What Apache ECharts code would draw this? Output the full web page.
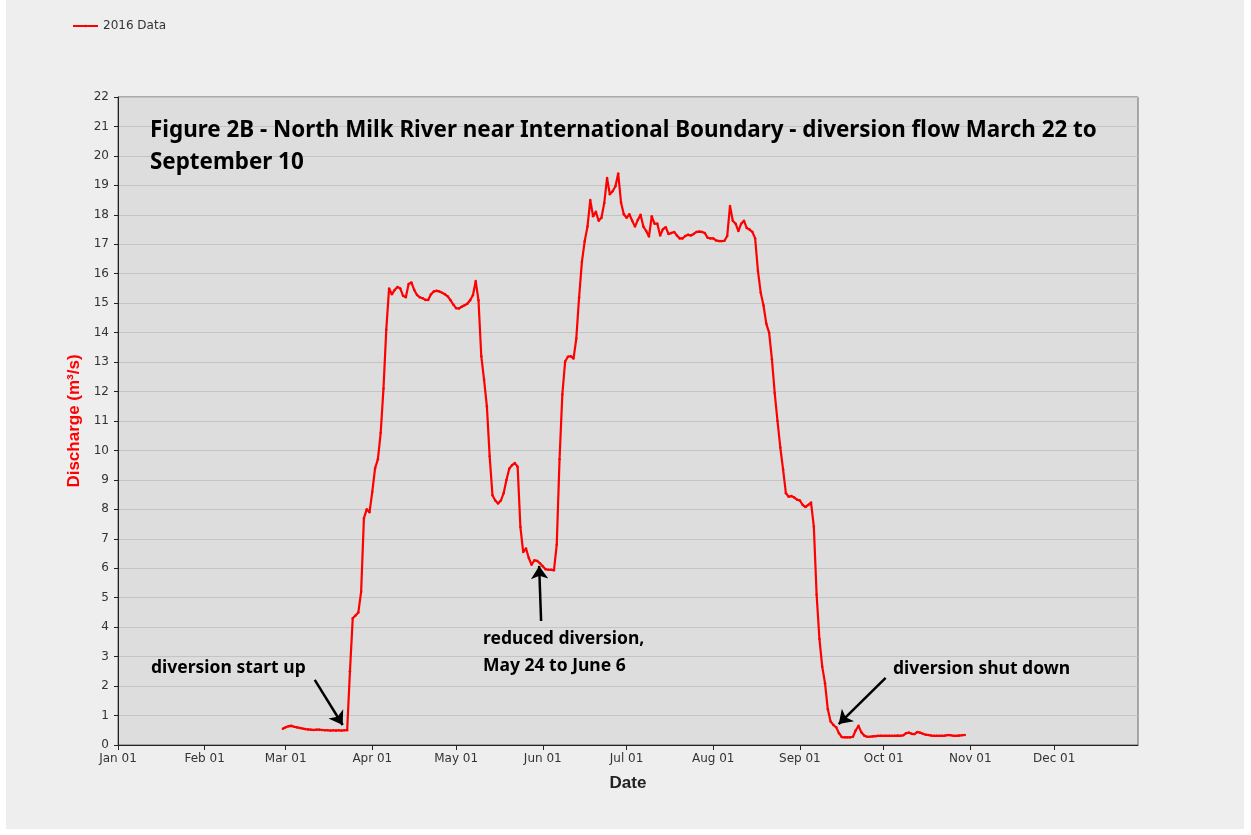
<!DOCTYPE html>
<html>
<head>
<meta charset="utf-8">
<script src="https://cdn.jsdelivr.net/npm/echarts@6/dist/echarts.min.js"></script>
<style>
html,body{margin:0;padding:0;background:#ffffff;}
#chart{position:absolute;left:6px;top:0;width:1238px;height:829px;background:#eeeeee;}
</style>
</head>
<body>
<div id="chart"></div>
<script>
// ---- data ----
const seriesName = '2016 Data';
const startDate = [2016, 1, 29]; // Feb 29, 2016 (year, monthIndex, day)
const flowValues = [
  0.55,0.6,0.64,0.65,0.62,0.6,0.58,0.56,0.54,0.53,0.52,0.51,0.52,0.52,0.51,0.5,0.5,0.49,0.5,0.49,0.5,0.49,0.5,0.5,
  2.5,4.3,4.4,4.5,5.2,7.7,8.0,7.9,8.6,9.4,9.7,10.6,12.1,14.1,15.5,15.3,15.45,15.55,
  15.5,15.25,15.2,15.65,15.7,15.45,15.28,15.2,15.17,15.11,15.11,15.3,15.4,15.42,15.4,15.35,15.3,15.23,15.1,14.95,
  14.83,14.82,14.88,14.93,14.98,15.1,15.27,15.75,15.1,13.2,12.4,11.5,9.8,8.48,8.3,8.2,8.3,8.55,9.0,9.38,
  9.5,9.57,9.45,7.4,6.55,6.67,6.35,6.12,6.27,6.25,6.17,6.07,5.97,5.95,5.95,5.93,6.8,9.7,11.9,13.02,
  13.18,13.2,13.12,13.8,15.2,16.4,17.1,17.6,18.5,17.95,18.1,17.8,17.9,18.4,19.25,18.7,18.8,18.97,19.4,18.42,
  18.02,17.9,18.02,17.8,17.6,17.82,18.0,17.6,17.45,17.26,17.95,17.7,17.7,17.3,17.51,17.58,17.35,17.38,17.42,17.3,
  17.2,17.2,17.28,17.32,17.3,17.35,17.42,17.43,17.42,17.38,17.22,17.2,17.2,17.13,17.11,17.11,17.12,17.28,18.3,17.8,
  17.7,17.45,17.7,17.8,17.55,17.5,17.42,17.2,16.1,15.35,14.92,14.3,14.0,13.1,11.95,11.0,10.1,9.35,8.55,8.43,
  8.45,8.4,8.33,8.3,8.15,8.08,8.15,8.23,7.41,5.1,3.6,2.66,2.1,1.21,0.8,0.68,0.6,0.4,0.27,0.26,
  0.26,0.26,0.28,0.5,0.65,0.43,0.32,0.28,0.28,0.29,0.3,0.31,0.31,0.31,0.31,0.31,0.31,0.31,0.32,0.31,
  0.33,0.4,0.42,0.38,0.37,0.44,0.42,0.38,0.35,0.34,0.32,0.31,0.31,0.31,0.31,0.32,0.34,0.33,0.31,0.31,0.32,0.33,0.34
];
const monthTickLabels = ['Jan 01','Feb 01','Mar 01','Apr 01','May 01','Jun 01','Jul 01','Aug 01','Sep 01','Oct 01','Nov 01','Dec 01'];
const yMin = 0, yMax = 22, yInterval = 1;
const titleLines = ['Figure 2B - North Milk River near International Boundary - diversion flow March 22 to', 'September 10'];
const noteTexts = ['diversion start up', 'reduced diversion,', 'May 24 to June 6', 'diversion shut down'];
// arrows: [dayOfYear, value] tail -> head
const arrowNotes = [
  [[70.4, 2.21], [80.4, 0.68]],
  [[151.4, 4.21], [150.7, 6.08]],
  [[274.7, 2.28], [257.9, 0.71]]
];

// ---- build ----
const DAY = 86400000;
const yearStart = Date.UTC(2016, 0, 1);
const seriesData = flowValues.map((v, i) => [Date.UTC(startDate[0], startDate[1], startDate[2] + i), v]);
const monthTicks = monthTickLabels.map((_, m) => Date.UTC(2016, m, 1));
const labelFor = {};
monthTicks.forEach((t, i) => { labelFor[t] = monthTickLabels[i]; });
const dayToTime = d => yearStart + d * DAY;

const chart = echarts.init(document.getElementById('chart'), null, {renderer: 'canvas'});
const tickFont = {fontFamily: 'DejaVu Sans', fontSize: 12, color: '#333333'};
const titleFont = 'bold 22.4px "Noto Sans"';
const noteFont = 'bold 17.5px "Noto Sans"';
const OX = 6; // page offset of the chart div

function txt(x, y, text, font) {
  return {type: 'text', z: 100, style: {x: x - OX, y: y, text: text, font: font, fill: '#000000', textVerticalAlign: 'middle'}};
}

chart.setOption({
  animation: false,
  backgroundColor: '#eeeeee',
  legend: {
    left: 61, top: 15,
    itemWidth: 25, itemHeight: 3,
    data: [seriesName],
    textStyle: {fontFamily: 'DejaVu Sans', fontSize: 12, color: '#333333'}
  },
  grid: {
    left: 118 - OX, right: 1244 - 1138, top: 97, bottom: 829 - 745,
    show: true, backgroundColor: '#dddddd', borderColor: '#666666', borderWidth: 1
  },
  xAxis: {
    type: 'value',
    min: yearStart,
    max: Date.UTC(2016, 11, 31),
    name: 'Date',
    nameLocation: 'middle',
    nameGap: 30,
    nameTextStyle: {fontFamily: 'Liberation Sans', fontSize: 17, fontWeight: 'bold', color: '#222222'},
    axisLine: {show: true, lineStyle: {color: '#222222', width: 1}},
    axisTick: {show: true, customValues: monthTicks, length: 5, lineStyle: {color: '#222222'}},
    axisLabel: Object.assign({customValues: monthTicks, margin: 8, formatter: v => labelFor[v] || ''}, tickFont),
    splitLine: {show: false}
  },
  yAxis: {
    type: 'value',
    min: yMin, max: yMax, interval: yInterval,
    name: 'Discharge (m³/s)',
    nameLocation: 'middle',
    nameGap: 34,
    nameTextStyle: {fontFamily: 'Liberation Sans', fontSize: 17, fontWeight: 'bold', color: '#ff0000'},
    axisLine: {show: true, lineStyle: {color: '#222222', width: 1}},
    axisTick: {show: true, length: 4, lineStyle: {color: '#222222'}},
    axisLabel: Object.assign({margin: 9}, tickFont),
    splitLine: {show: true, lineStyle: {color: '#c4c4c4', width: 1}}
  },
  series: [{
    name: seriesName,
    type: 'line',
    data: seriesData,
    showSymbol: true,
    symbol: 'circle',
    symbolSize: 2.5,
    itemStyle: {color: '#ff0000'},
    lineStyle: {color: '#ff0000', width: 2.2},
    markLine: {
      silent: true,
      symbol: ['none', 'arrow'],
      symbolSize: 13,
      label: {show: false},
      lineStyle: {color: '#000000', width: 2.5, type: 'solid'},
      data: arrowNotes.map(a => [
        {coord: [dayToTime(a[0][0]), a[0][1]], symbol: 'none'},
        {coord: [dayToTime(a[1][0]), a[1][1]], symbol: 'arrow'}
      ])
    }
  }],
  graphic: [
    txt(150, 131, titleLines[0], titleFont),
    txt(150, 163, titleLines[1], titleFont),
    txt(151, 668, noteTexts[0], noteFont),
    txt(483, 639, noteTexts[1], noteFont),
    txt(483, 666, noteTexts[2], noteFont),
    txt(893, 669, noteTexts[3], noteFont)
  ]
});
</script>
</body>
</html>
